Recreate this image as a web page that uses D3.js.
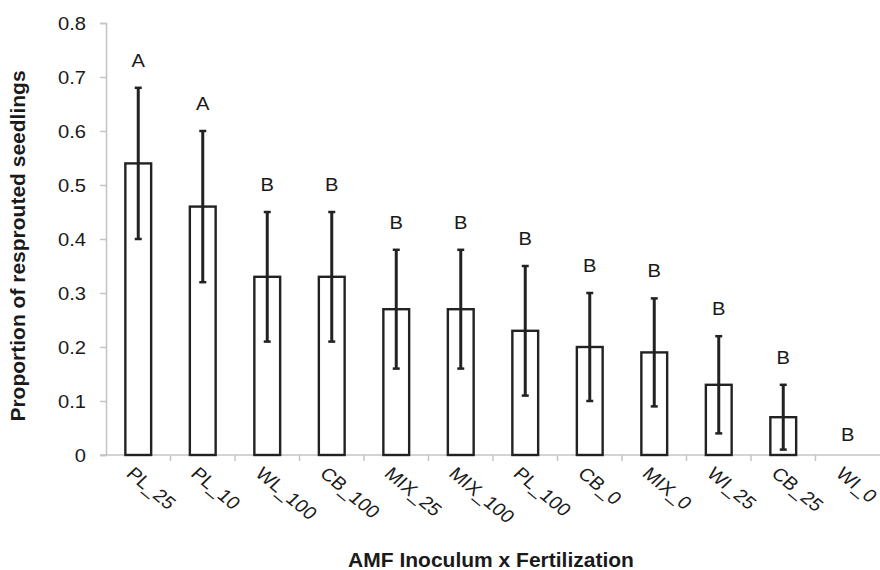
<!DOCTYPE html>
<html>
<head>
<meta charset="utf-8">
<script src="https://cdn.jsdelivr.net/npm/d3@7"></script>
<style>
  body { margin: 0; background: #fff; }
  svg text { font-family: "Liberation Sans", Arial, sans-serif; fill: #1a1a1a; }
</style>
</head>
<body>
<svg id="chart"></svg>
<script>
const WIDTH = 880, HEIGHT = 570;

// treatments, mean proportion, error (+/-), significance letter
const categories = ['PL_25','PL_10','WL_100','CB_100','MIX_25','MIX_100','PL_100','CB_0','MIX_0','WI_25','CB_25','WI_0'];
const means      = [0.54, 0.46, 0.33, 0.33, 0.27, 0.27, 0.23, 0.20, 0.19, 0.13, 0.07, 0];
const errors     = [0.14, 0.14, 0.12, 0.12, 0.11, 0.11, 0.12, 0.10, 0.10, 0.09, 0.06, 0];
const letters    = ['A','A','B','B','B','B','B','B','B','B','B','B'];
const yTicks     = [0, 0.1, 0.2, 0.3, 0.4, 0.5, 0.6, 0.7, 0.8];

const margin = {top: 23, right: 0, bottom: 115, left: 106};
const STRETCH = 1.12; // the original figure is a bit wider than tall
const svg = d3.select('#chart').attr('width', WIDTH).attr('height', HEIGHT);

const x = d3.scaleBand().domain(categories).range([margin.left, WIDTH - margin.right]).padding(0);
const y = d3.scaleLinear().domain([0, 0.8]).range([HEIGHT - margin.bottom, margin.top]);
const axisGrey = '#c4c4c4', ink = '#222';
const barW = x.bandwidth() * 0.4;

// y axis
const yAxis = svg.append('g').attr('transform', 'translate(' + margin.left + ',0)')
  .call(d3.axisLeft(y).tickValues(yTicks).tickSize(6).tickFormat(d => d === 0 ? '0' : d3.format('.1f')(d)));
yAxis.select('.domain').attr('stroke', axisGrey).attr('stroke-width', 1.5);
yAxis.selectAll('.tick line').attr('stroke', axisGrey).attr('stroke-width', 1.5);
yAxis.selectAll('.tick text').attr('font-size', 18).attr('fill', ink)
  .attr('x', -20 / STRETCH).attr('dy', '0.36em')
  .attr('transform', 'scale(' + STRETCH + ',1)');

// x axis: line with ticks at category boundaries
const x0 = y(0);
svg.append('line').attr('x1', margin.left - 6).attr('x2', WIDTH - margin.right)
  .attr('y1', x0).attr('y2', x0).attr('stroke', axisGrey).attr('stroke-width', 1.5);
svg.selectAll('.xtick').data(categories.slice(1)).enter().append('line')
  .attr('x1', d => x(d)).attr('x2', d => x(d))
  .attr('y1', x0).attr('y2', x0 + 6)
  .attr('stroke', axisGrey).attr('stroke-width', 1.5);

svg.selectAll('.xlabel').data(categories).enter().append('text')
  .attr('transform', d => 'translate(' + (x(d) + x.bandwidth() / 2 - 13) + ',' + (x0 + 20) + ') scale(' + STRETCH + ',1) rotate(43)')
  .attr('font-size', 18).attr('text-anchor', 'start').text(d => d);

// bars
const rows = categories.map((c, i) => ({c: c, m: means[i], e: errors[i], l: letters[i]}));
const cx = d => x(d.c) + x.bandwidth() / 2;

svg.selectAll('.bar').data(rows.filter(d => d.m > 0)).enter().append('rect')
  .attr('x', d => cx(d) - barW / 2).attr('width', barW)
  .attr('y', d => y(d.m)).attr('height', d => y(0) - y(d.m))
  .attr('fill', '#fff').attr('stroke', ink).attr('stroke-width', 2.4);

// error bars
const eb = svg.selectAll('.err').data(rows.filter(d => d.e > 0)).enter().append('g');
eb.append('line').attr('x1', cx).attr('x2', cx)
  .attr('y1', d => y(d.m - d.e)).attr('y2', d => y(d.m + d.e))
  .attr('stroke', ink).attr('stroke-width', 3);
[1, -1].forEach(s => {
  eb.append('line').attr('x1', d => cx(d) - 3.5).attr('x2', d => cx(d) + 3.5)
    .attr('y1', d => y(d.m + s * d.e)).attr('y2', d => y(d.m + s * d.e))
    .attr('stroke', ink).attr('stroke-width', 2.5);
});

// letters
svg.selectAll('.letter').data(rows).enter().append('text')
  .attr('transform', d => 'translate(' + cx(d) + ',' + (y(d.m + d.e) - (d.e > 0 ? 21 : 14)) + ') scale(' + STRETCH + ',1)')
  .attr('text-anchor', 'middle').attr('font-size', 18).text(d => d.l);

// axis titles
svg.append('text').attr('x', (margin.left + WIDTH) / 2 - 2).attr('y', 567)
  .attr('text-anchor', 'middle').attr('font-size', 21).attr('font-weight', 'bold')
  .text('AMF Inoculum x Fertilization');
svg.append('text').attr('transform', 'translate(25,' + ((margin.top + x0) / 2 + 7) + ') rotate(-90)')
  .attr('text-anchor', 'middle').attr('font-size', 21).attr('font-weight', 'bold')
  .text('Proportion of resprouted seedlings');
</script>
</body>
</html>
